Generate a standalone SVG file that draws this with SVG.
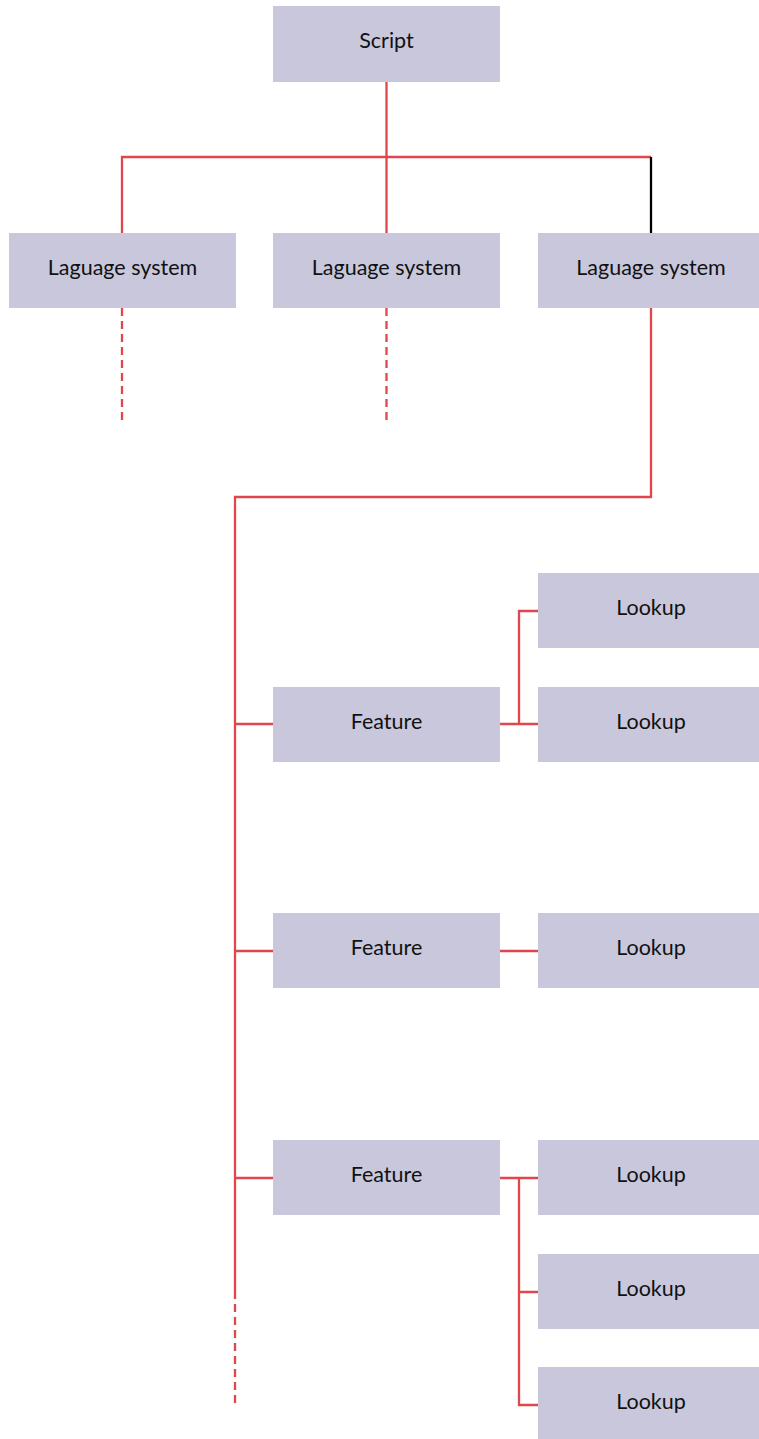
<svg xmlns="http://www.w3.org/2000/svg" width="759" height="1439" viewBox="0 0 759 1439">
  <style>
    .box { fill: #c8c7dc; }
    .label { font-family: Lato, "Open Sans", "Liberation Sans", sans-serif; font-size: 21.5px; fill: #111; text-anchor: middle; }
    .link { fill: none; stroke: #e0474c; stroke-width: 2.3; }
    .dash { stroke-dasharray: 8 5; }
    .dark { fill: none; stroke: #000; stroke-width: 2.3; }
  </style>
  <rect width="759" height="1439" fill="#fff"/>

  <!-- connectors -->
  <g id="connectors">
    <path class="link" d="M386.5 82 V233 M122 233 V157 H651"/>
    <path class="dark" d="M651 157 V233"/>
    <path class="link dash" d="M122 308 V421 M386.5 308 V421"/>
    <path class="link" d="M651 308 V497 H235 V1299"/>
    <path class="link dash" d="M235 1304 V1405"/>
    <path class="link" d="M235 724 H273 M235 951 H273 M235 1178 H273"/>
    <path class="link" d="M500 724 H538 M519 724 V611 H538"/>
    <path class="link" d="M500 951 H538"/>
    <path class="link" d="M500 1178 H538 M519 1178 V1405 H538 M519 1292 H538"/>
  </g>

  <g id="script">
    <rect class="box" x="273" y="6" width="227" height="76"/>
    <text class="label" x="386.5" y="48">Script</text>
  </g>
  <g id="lang1">
    <rect class="box" x="9" y="233" width="227" height="75"/>
    <text class="label" x="122.5" y="275">Laguage system</text>
  </g>
  <g id="lang2">
    <rect class="box" x="273" y="233" width="227" height="75"/>
    <text class="label" x="386.5" y="275">Laguage system</text>
  </g>
  <g id="lang3">
    <rect class="box" x="538" y="233" width="221" height="75"/>
    <text class="label" x="651" y="275">Laguage system</text>
  </g>

  <g id="feature1">
    <rect class="box" x="273" y="687" width="227" height="75"/>
    <text class="label" x="386.5" y="729">Feature</text>
  </g>
  <g id="feature2">
    <rect class="box" x="273" y="913" width="227" height="75"/>
    <text class="label" x="386.5" y="955">Feature</text>
  </g>
  <g id="feature3">
    <rect class="box" x="273" y="1140" width="227" height="75"/>
    <text class="label" x="386.5" y="1182">Feature</text>
  </g>

  <g id="lookup1">
    <rect class="box" x="538" y="573" width="221" height="75"/>
    <text class="label" x="651" y="615">Lookup</text>
  </g>
  <g id="lookup2">
    <rect class="box" x="538" y="687" width="221" height="75"/>
    <text class="label" x="651" y="729">Lookup</text>
  </g>
  <g id="lookup3">
    <rect class="box" x="538" y="913" width="221" height="75"/>
    <text class="label" x="651" y="955">Lookup</text>
  </g>
  <g id="lookup4">
    <rect class="box" x="538" y="1140" width="221" height="75"/>
    <text class="label" x="651" y="1182">Lookup</text>
  </g>
  <g id="lookup5">
    <rect class="box" x="538" y="1254" width="221" height="75"/>
    <text class="label" x="651" y="1296">Lookup</text>
  </g>
  <g id="lookup6">
    <rect class="box" x="538" y="1367" width="221" height="75"/>
    <text class="label" x="651" y="1409">Lookup</text>
  </g>
</svg>
